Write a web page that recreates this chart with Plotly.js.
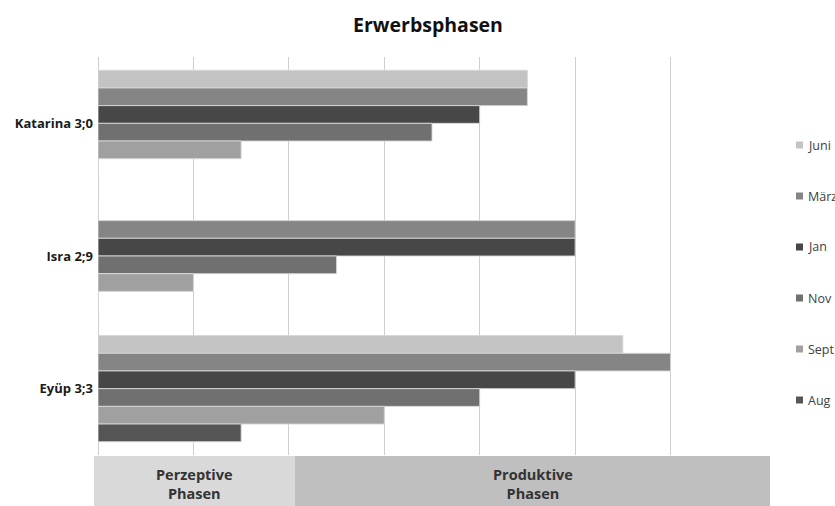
<!DOCTYPE html>
<html>
<head>
<meta charset="utf-8">
<script src="https://cdn.plot.ly/plotly-3.0.1.min.js"></script>
<style>
  html, body { margin: 0; padding: 0; background: #fff; }
  #chart { width: 835px; height: 506px; }
</style>
</head>
<body>
<div id="chart"></div>
<script>
// Children (category axis, top to bottom)
const children = ["Katarina 3;0", "Isra 2;9", "Eyüp 3;3"];

// Acquisition phase reached at each recording month
const months = ["Juni", "März", "Jan", "Nov", "Sept", "Aug"];
const juni = [4.5, 0, 5.5];
const maerz = [4.5, 5, 6];
const jan = [4, 5, 5];
const nov = [3.5, 2.5, 4];
const sept = [1.5, 1, 3];
const aug = [0, 0, 1.5];

// Phase bands below the plot
const phaseLabels = ["Perzeptive<br>Phasen", "Produktive<br>Phasen"];

const seriesValues = [juni, maerz, jan, nov, sept, aug];
const seriesColors = ["#c3c3c3", "#858585", "#474747", "#707070", "#a0a0a0", "#555555"];

const font = "'Open Sans', Lato, sans-serif";

const traces = months.map((m, i) => ({
  type: "bar",
  orientation: "h",
  name: m,
  y: children,
  x: seriesValues[i],
  marker: {
    color: seriesColors[i],
    line: { color: "rgba(215,215,215,0.9)", width: 1 }
  },
  hoverinfo: "name+x"
}));

// Plot area spans pixels 98..766 horizontally and 57..455 vertically
const plotH = 398, plotW = 668, plotTop = 57, plotLeft = 98;
const pyPaper = px => (plotTop + plotH - px) / plotH;
const pxPaper = px => (px - plotLeft) / plotW;

const shapes = [];
const annotations = [];

// Phase bands
const bandEdges = [94, 295, 770];
const bandColors = ["#d9d9d9", "#bfbfbf"];
phaseLabels.forEach((lab, i) => {
  shapes.push({
    type: "rect", xref: "paper", yref: "paper",
    x0: pxPaper(bandEdges[i]), x1: pxPaper(bandEdges[i + 1]),
    y0: pyPaper(506), y1: pyPaper(456),
    fillcolor: bandColors[i], line: { width: 0 }, layer: "below"
  });
  annotations.push({
    xref: "paper", yref: "paper",
    x: pxPaper((bandEdges[i] + bandEdges[i + 1]) / 2), y: pyPaper(484),
    xanchor: "center", yanchor: "middle",
    text: "<b>" + lab + "</b>", showarrow: false,
    font: { family: font, size: 14.5, color: "#333" }
  });
});

// Legend entries along the right edge
months.forEach((m, i) => {
  const cy = 145 + i * 51;
  shapes.push({
    type: "rect", xref: "paper", yref: "paper",
    x0: pxPaper(796), x1: pxPaper(803),
    y0: pyPaper(cy + 3.5), y1: pyPaper(cy - 3.5),
    fillcolor: seriesColors[i], line: { width: 0 }
  });
  annotations.push({
    xref: "paper", yref: "paper",
    x: pxPaper(806), y: pyPaper(cy),
    xanchor: "left", yanchor: "middle",
    text: m, showarrow: false,
    font: { family: font, size: 12.5, color: "#404040" }
  });
});

const layout = {
  width: 835, height: 506,
  margin: { l: plotLeft, r: 835 - 766, t: plotTop, b: 506 - 455, pad: 0 },
  paper_bgcolor: "#fff", plot_bgcolor: "#fff",
  showlegend: false,
  barmode: "group",
  bargap: 0.2,
  bargroupgap: 0,
  title: {
    text: "<b>Erwerbsphasen</b>",
    xref: "container", yref: "container",
    x: 428 / 835, y: 1 - 25 / 506,
    xanchor: "center", yanchor: "middle",
    font: { family: font, size: 19.5, color: "#111" }
  },
  xaxis: {
    range: [0, 7],
    dtick: 1,
    showticklabels: false,
    showgrid: true,
    gridcolor: "#cfcfcf",
    gridwidth: 1,
    zeroline: true,
    zerolinecolor: "#cfcfcf",
    zerolinewidth: 1,
    showline: false,
    fixedrange: true
  },
  yaxis: {
    autorange: "reversed",
    showgrid: false,
    zeroline: false,
    showline: false,
    ticks: "",
    ticklabelstandoff: 4,
    tickfont: { family: font, size: 13, color: "#1a1a1a", weight: "bold" },
    fixedrange: true
  },
  shapes: shapes,
  annotations: annotations,
  font: { family: font }
};

Plotly.newPlot("chart", traces, layout, { displayModeBar: false, staticPlot: true });
</script>
</body>
</html>
